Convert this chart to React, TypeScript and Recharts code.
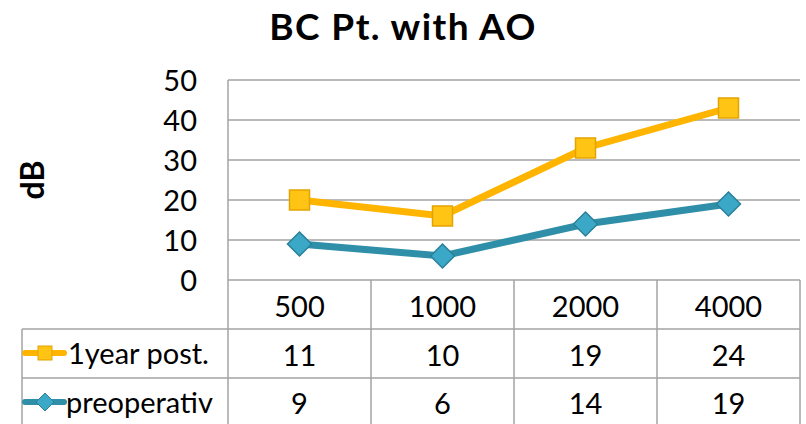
import React from 'react';
import { ComposedChart, Area, XAxis, YAxis, CartesianGrid } from 'recharts';

const categories = ['500', '1000', '2000', '4000'];
const postValues = [11, 10, 19, 24];
const preValues = [9, 6, 14, 19];
const yTicks = [0, 10, 20, 30, 40, 50];
const seriesNames = ['1year post.', 'preoperativ'];

const data = categories.map((c, i) => ({ cat: c, pre: preValues[i], post: postValues[i] }));

const W = 806;
const H = 424;
const PLOT_LEFT = 228;
const PLOT_RIGHT = 800;
const PLOT_TOP = 80;
const PLOT_BOTTOM = 280;
const ROW_H = 49;
const TABLE_LEFT = 22;
const BW = (PLOT_RIGHT - PLOT_LEFT) / categories.length;
const FONT = 'Lato, "Open Sans", sans-serif';
const GRID = '#a3a3a3';

const ORANGE_LINE = '#FFB400';
const ORANGE_FILL = '#FFC414';
const ORANGE_EDGE = '#E3A300';
const TEAL_LINE = '#2F8FA8';
const TEAL_FILL = '#3AA8C6';
const TEAL_EDGE = '#2A8099';

const SquareDot = (props: any) => {
  const { cx, cy, index } = props;
  if (cx == null || cy == null) return null;
  return (
    <rect key={'sq' + index} x={cx - 10} y={cy - 10} width={20} height={20}
      fill={ORANGE_FILL} stroke={ORANGE_EDGE} strokeWidth={1.5} />
  );
};

const DiamondDot = (props: any) => {
  const { cx, cy, index } = props;
  if (cx == null || cy == null) return null;
  const r = 12;
  return (
    <path key={'dm' + index}
      d={`M${cx},${cy - r}L${cx + r},${cy}L${cx},${cy + r}L${cx - r},${cy}Z`}
      fill={TEAL_FILL} stroke={TEAL_EDGE} strokeWidth={1.5} />
  );
};

const TableTick = (props: any) => {
  const { x, payload, index } = props;
  const bw = BW;
  const i = index ?? categories.indexOf(payload.value);
  const r1 = PLOT_BOTTOM + ROW_H;
  const r2 = PLOT_BOTTOM + 2 * ROW_H;
  const txt = { fontFamily: FONT, fontSize: 29, fill: '#000' } as any;
  return (
    <g>
      <line x1={x + bw / 2} x2={x + bw / 2} y1={PLOT_BOTTOM} y2={H} stroke={GRID} strokeWidth={1.5} />
      {i === 0 && (
        <g>
          <line x1={x - bw / 2} x2={x - bw / 2} y1={PLOT_BOTTOM} y2={H} stroke={GRID} strokeWidth={1.5} />
          <line x1={TABLE_LEFT} x2={PLOT_RIGHT} y1={r1} y2={r1} stroke={GRID} strokeWidth={1.5} />
          <line x1={TABLE_LEFT} x2={PLOT_RIGHT} y1={r2} y2={r2} stroke={GRID} strokeWidth={1.5} />
          <line x1={TABLE_LEFT} x2={TABLE_LEFT} y1={r1} y2={H} stroke={GRID} strokeWidth={1.5} />
          <line x1={25} x2={64} y1={r1 + 24} y2={r1 + 24} stroke={ORANGE_LINE} strokeWidth={6} strokeLinecap="round" />
          <rect x={38} y={r1 + 17} width={14} height={14} fill={ORANGE_FILL} stroke={ORANGE_EDGE} strokeWidth={1} />
          <line x1={25} x2={64} y1={r2 + 24} y2={r2 + 24} stroke={TEAL_LINE} strokeWidth={6} strokeLinecap="round" />
          <path d={`M45,${r2 + 15}L54,${r2 + 24}L45,${r2 + 33}L36,${r2 + 24}Z`} fill={TEAL_FILL} stroke={TEAL_EDGE} strokeWidth={1} />
          <text x={68} y={r1 + 35} {...txt}>{seriesNames[0]}</text>
          <text x={66} y={r2 + 35} {...txt}>{seriesNames[1]}</text>
        </g>
      )}
      <text x={x} y={PLOT_BOTTOM + 37} textAnchor="middle" {...txt}>{payload.value}</text>
      <text x={x} y={r1 + 37} textAnchor="middle" {...txt}>{postValues[i]}</text>
      <text x={x} y={r2 + 36} textAnchor="middle" {...txt}>{preValues[i]}</text>
    </g>
  );
};

const YTick = (props: any) => {
  const { y, payload } = props;
  return (
    <text x={PLOT_LEFT - 31} y={y + 11} textAnchor="end" fontFamily={FONT} fontSize={29} fill="#000">
      {payload.value}
    </text>
  );
};

export default function App() {
  return (
    <div style={{ position: 'absolute', left: 0, top: 0, width: W, height: H, background: '#fff', overflow: 'hidden' }}>
      <ComposedChart width={W} height={H} data={data}
        margin={{ top: PLOT_TOP, right: W - PLOT_RIGHT, left: 0, bottom: 0 }}>
        <CartesianGrid vertical={false} stroke={GRID} strokeWidth={1.5} />
        <XAxis dataKey="cat" height={H - PLOT_BOTTOM} axisLine={false} tickLine={false}
          padding={{ left: BW / 2, right: BW / 2 }} tick={<TableTick />} interval={0} />
        <YAxis width={PLOT_LEFT} domain={[0, 50]} ticks={yTicks} axisLine={{ stroke: GRID, strokeWidth: 1.5 }}
          tickLine={false} tick={<YTick />} interval={0} />
        <Area type="linear" dataKey="pre" stackId="s" stroke={TEAL_LINE} strokeWidth={7} fill="none" fillOpacity={0}
          dot={<DiamondDot />} activeDot={false} isAnimationActive={false} />
        <Area type="linear" dataKey="post" stackId="s" stroke={ORANGE_LINE} strokeWidth={7} fill="none" fillOpacity={0}
          dot={<SquareDot />} activeDot={false} isAnimationActive={false} />
      </ComposedChart>
      <div style={{ position: 'absolute', left: 0, top: 3, width: W, textAlign: 'center', fontFamily: FONT,
        fontWeight: 700, fontSize: 37, letterSpacing: 1.4, lineHeight: '46px', color: '#000' }}>BC Pt. with AO</div>
      <div style={{ position: 'absolute', left: 31, top: 180, transform: 'translate(-50%, -50%) rotate(-90deg)',
        fontFamily: FONT, fontWeight: 700, fontSize: 32, color: '#000', whiteSpace: 'nowrap' }}>dB</div>
    </div>
  );
}
